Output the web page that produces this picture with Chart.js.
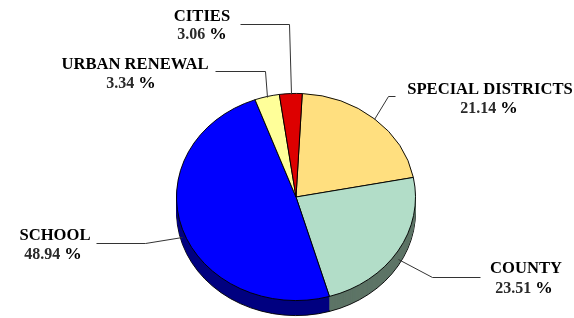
<!DOCTYPE html>
<html>
<head>
<meta charset="utf-8">
<script src="https://cdn.jsdelivr.net/npm/chart.js@4/dist/chart.umd.min.js"></script>
<style>
  html, body { margin: 0; padding: 0; background: #ffffff; }
  #wrap { width: 574px; height: 318px; }
</style>
</head>
<body>
<div id="wrap"><canvas id="c" width="574" height="318"></canvas></div>
<script>
// ---- data ----
const categories = ['SPECIAL DISTRICTS', 'COUNTY', 'SCHOOL', 'URBAN RENEWAL', 'CITIES'];
const shares = [21.14, 23.51, 48.94, 3.34, 3.06];
const shareLabels = ['21.14', '23.51', '48.94', '3.34', '3.06'];

// ---- styles / layout ----
const topColors  = ['#FFDF7F', '#B2DDC8', '#0000FF', '#FFFF99', '#DD0000'];
const sideColors = ['#806F40', '#5D7466', '#000080', '#80804C', '#6E0000'];
const tilt = 104 / 120;
const depth = 15;
const labelLayout = [
  { nx: 490, ny: 94,  vx: 489, vy: 113, elbow: [388, 96],  end: [395, 96],  side: false },
  { nx: 526, ny: 273, vx: 524, vy: 293, elbow: [432, 277], end: [480, 277], side: true  },
  { nx: 55,  ny: 240, vx: 53,  vy: 259, elbow: [145, 243], end: [96, 243],  side: true  },
  { nx: 135, ny: 69,  vx: 131, vy: 88,  elbow: [265, 71],  end: [215, 71],  side: false },
  { nx: 202, ny: 21,  vx: 202, vy: 39,  elbow: [289, 24],  end: [240, 24],  side: false }
];

function squash(ctx, cx, cy) {
  ctx.translate(cx, cy);
  ctx.scale(1, tilt);
  ctx.translate(-cx, -cy);
}

const pie3d = {
  id: 'pie3d',
  beforeDatasetsDraw(chart) {
    const ctx = chart.ctx;
    const meta = chart.getDatasetMeta(0);
    const cx = meta.data[0].x, cy = meta.data[0].y;
    for (let d = depth; d >= 1; d--) {
      ctx.save();
      ctx.translate(0, d);
      squash(ctx, cx, cy);
      meta.data.forEach((arc, i) => {
        const orig = arc.options;
        const o = Object.create(orig);
        o.backgroundColor = sideColors[i];
        o.borderColor = '#000000';
        o.borderWidth = (d === depth) ? 1 : 0;
        arc.options = o;
        arc.draw(ctx);
        arc.options = orig;
      });
      ctx.restore();
    }
    ctx.save();
    squash(ctx, cx, cy);
  },
  afterDatasetsDraw(chart) {
    const ctx = chart.ctx;
    ctx.restore();
    const meta = chart.getDatasetMeta(0);
    meta.data.forEach((arc, i) => {
      const L = labelLayout[i];
      const mid = (arc.startAngle + arc.endAngle) / 2;
      const r = arc.outerRadius;
      let ax = arc.x + r * Math.cos(mid);
      let ay = arc.y + tilt * r * Math.sin(mid);
      if (L.side) ay += depth / 2;
      ctx.save();
      ctx.strokeStyle = '#333333';
      ctx.lineWidth = 1;
      ctx.beginPath();
      ctx.moveTo(Math.round(ax) + 0.5, Math.round(ay) + 0.5);
      ctx.lineTo(L.elbow[0] + 0.5, L.elbow[1] + 0.5);
      ctx.lineTo(L.end[0] + 0.5, L.end[1] + 0.5);
      ctx.stroke();
      ctx.fillStyle = '#000000';
      ctx.textAlign = 'center';
      ctx.textBaseline = 'alphabetic';
      ctx.font = 'bold 16.6px "Liberation Serif", "Times New Roman", serif';
      ctx.fillText(chart.data.labels[i], L.nx, L.ny);
      const num = shareLabels[i];
      ctx.font = 'bold 16px "Liberation Serif", "Times New Roman", serif';
      const wNum = ctx.measureText(num + ' ').width;
      ctx.font = 'bold 17.5px "Liberation Serif", "Times New Roman", serif';
      const wPct = ctx.measureText('%').width;
      const x0 = L.vx - (wNum + wPct) / 2;
      ctx.textAlign = 'left';
      ctx.font = 'bold 16px "Liberation Serif", "Times New Roman", serif';
      ctx.fillStyle = '#2a2a2a';
      ctx.fillText(num + ' ', x0, L.vy);
      ctx.font = 'bold 17.5px "Liberation Serif", "Times New Roman", serif';
      ctx.fillStyle = '#000000';
      ctx.fillText('%', x0 + wNum, L.vy);
      ctx.restore();
    });
  }
};

new Chart(document.getElementById('c'), {
  type: 'pie',
  data: {
    labels: categories,
    datasets: [{
      data: shares,
      backgroundColor: topColors,
      borderColor: '#000000',
      borderWidth: 1
    }]
  },
  options: {
    responsive: false,
    animation: false,
    rotation: 3,
    layout: { padding: { left: 176, right: 158, top: 77, bottom: 1 } },
    plugins: { legend: { display: false }, tooltip: { enabled: false } }
  },
  plugins: [pie3d]
});
</script>
</body>
</html>
